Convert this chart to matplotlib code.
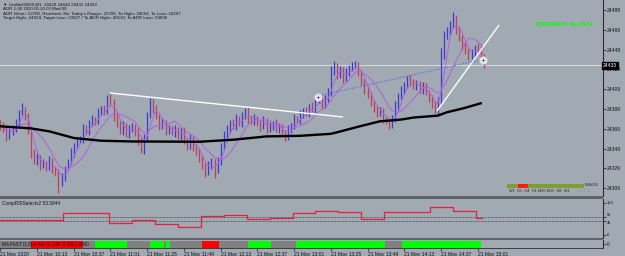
import matplotlib
matplotlib.use('Agg')
import matplotlib.pyplot as plt
import numpy as np
import pandas as pd
from matplotlib.patches import Rectangle

# ---------------- data ----------------
first_open = 24375
closes = [
    24372, 24369, 24362, 24365, 24370, 24375, 24385, 24389, 24382, 24367,
    24345, 24337, 24340, 24332, 24335, 24330, 24337, 24329, 24325, 24314,
    24320, 24329, 24337, 24345, 24352, 24357, 24359, 24369, 24367, 24375,
    24379, 24377, 24385, 24389, 24387, 24398, 24396, 24382, 24375, 24367,
    24372, 24364, 24369, 24372, 24367, 24357, 24348, 24359, 24382, 24396,
    24389, 24382, 24372, 24375, 24367, 24369, 24365, 24369, 24362, 24367,
    24357, 24352, 24359, 24352, 24347, 24339, 24332, 24325, 24332, 24337,
    24327, 24337, 24352, 24362, 24369, 24375, 24372, 24379, 24375, 24382,
    24387, 24379, 24377, 24380, 24375, 24372, 24377, 24369, 24372, 24375,
    24369, 24372, 24365, 24361, 24369, 24372, 24379, 24377, 24384, 24387,
    24385, 24391, 24389, 24398, 24400, 24393, 24398, 24406, 24426, 24433,
    24423, 24428, 24420, 24426, 24430, 24433, 24434, 24426, 24416, 24408,
    24403, 24396, 24389, 24385, 24387, 24379, 24377, 24373, 24379, 24392,
    24402, 24408, 24413, 24418, 24416, 24412, 24414, 24408, 24412, 24406,
    24400, 24393, 24389, 24398, 24443, 24464, 24467, 24474, 24481, 24469,
    24461, 24453, 24448, 24443, 24446, 24451, 24450, 24442, 24433]
wick_hi = [
    3, 4, 2, 5, 3, 4, 3, 6, 2, 3,
    2, 4, 5, 3, 4, 2, 5, 3, 2, 3,
    4, 3, 2, 5, 3, 4, 3, 5, 4, 3,
    4, 2, 5, 3, 4, 5, 7, 3, 4, 2,
    5, 3, 4, 3, 2, 4, 3, 5, 4, 4,
    3, 4, 2, 5, 3, 4, 3, 4, 2, 3,
    4, 2, 5, 3, 2, 3, 4, 3, 5, 3,
    2, 4, 3, 5, 4, 3, 4, 5, 3, 4,
    3, 4, 3, 4, 2, 3, 5, 3, 4, 2,
    4, 3, 2, 3, 4, 3, 5, 3, 4, 3,
    4, 3, 5, 2, 4, 3, 5, 4, 6, 5,
    3, 4, 3, 4, 3, 4, 4, 3, 2, 3,
    4, 3, 2, 3, 4, 3, 2, 3, 4, 5,
    3, 4, 3, 4, 5, 3, 4, 3, 4, 3,
    2, 3, 4, 3, 8, 4, 5, 4, 6, 3,
    4, 3, 4, 3, 4, 3, 5, 3, 3]
wick_lo = [
    4, 3, 5, 3, 2, 4, 3, 2, 4, 3,
    5, 3, 4, 5, 3, 4, 3, 5, 4, 10,
    3, 4, 2, 3, 4, 3, 2, 4, 3, 4,
    3, 4, 3, 2, 4, 3, 3, 5, 4, 3,
    4, 3, 4, 3, 5, 4, 3, 4, 3, 2,
    4, 3, 4, 3, 4, 3, 2, 4, 3, 4,
    3, 4, 3, 5, 4, 3, 4, 5, 3, 4,
    8, 3, 4, 3, 2, 4, 3, 4, 3, 4,
    3, 4, 3, 4, 3, 5, 3, 4, 3, 4,
    3, 4, 3, 4, 3, 4, 3, 2, 3, 4,
    3, 4, 3, 4, 3, 4, 3, 2, 4, 3,
    4, 3, 5, 3, 4, 3, 3, 4, 3, 4,
    3, 4, 3, 4, 3, 4, 3, 4, 3, 3,
    4, 3, 4, 3, 4, 3, 4, 3, 4, 3,
    4, 3, 4, 5, 4, 3, 4, 3, 3, 4,
    3, 4, 3, 4, 3, 4, 3, 5, 3]
bar_step_min = 2  # minutes between plotted bars

# slow moving average
ma200_idx = [0, 10, 16, 24, 33, 43, 65, 76, 87, 98, 108, 110, 118, 124, 131, 135, 143, 146, 151, 157]
ma200_val = [24371.6, 24369.5, 24366.5, 24359.8, 24357.0, 24356.3, 24356.0, 24358.0, 24361.4, 24362.0,
             24364.0, 24365.5, 24372.0, 24376.6, 24378.4, 24380.4, 24382.4, 24385.8, 24389.5, 24394.8]

# drawn objects (minute, price)
white_line1 = [(71.7, 24405.2), (224.0, 24381.0)]
white_line2 = [(285.4, 24387.0), (326.0, 24473.9)]
blue_dotted = [(210.3, 24403.2), (313.5, 24438.5)]
circles = [(207.6, 24401.2), (315.5, 24438.5)]
current_price = 24433

price_ticks = [24489, 24469, 24449, 24429, 24409, 24389, 24369, 24349, 24329, 24309]

# RSI step data (15-min periods)
rsi_edges = [0, 11, 26, 41, 56, 71, 86, 101, 116, 131, 146, 161, 176, 191, 206, 221, 236, 251, 266, 281, 296, 311, 315]
rsi_vals = [47, 47, 47, 69, 69, 37.5, 47, 34, 25, 59, 62, 50, 53, 69, 75, 72, 50, 72, 72, 87.5, 75, 53.6]

# MA cross histogram segments (start min, end min, state)
ma_segments = [(0, 20, 'n'), (20, 54, 'd'), (54, 62, 'n'), (62, 83, 'u'), (83, 98, 'n'),
               (98, 107, 'u'), (107, 108, 'n'), (108, 111, 'u'), (111, 132, 'n'), (132, 143, 'd'),
               (143, 162, 'n'), (162, 177, 'u'), (177, 193, 'n'), (193, 251.5, 'u'),
               (251.5, 262.5, 'n'), (262.5, 314.2, 'u')]

time_tick_min = [0, 24, 48, 72, 96, 120, 144, 168, 192, 216, 240, 264, 288, 312]
time_labels = ['21 May 2020', '21 May 10:13', '21 May 10:37', '21 May 11:01', '21 May 11:25',
               '21 May 11:49', '21 May 12:13', '21 May 12:37', '21 May 13:01', '21 May 13:25',
               '21 May 13:49', '21 May 14:13', '21 May 14:37', '21 May 15:01']

info_lines = ['\u25bc UsdIdx05820,M1  24439 24444 24431 24433',
              'ADR 1.00 2020.05.20 00 Mod 00',
              "ADR Value= 52780, Reached= No, Today's Range= 25706, To High= 24554, To Low= 24297",
              'Target High= 24924, Target Low= 23927 / To ADR High= 49130, To ADR Low= 59836']

# ---------------- style ----------------
BG = '#a1a9b3'
SEP = '#5d646c'
TXT = '#111418'
UP = '#3b3bd4'
DN = '#bd4058'
PURPLE = '#b25fe0'
FONT = ['Liberation Sans', 'DejaVu Sans']
plt.rcParams['font.family'] = FONT

W, H = 625, 256
fig = plt.figure(figsize=(W / 100, H / 100), dpi=100)
fig.patch.set_facecolor(BG)


def axes_px(x0, y0, x1, y1):
    a = fig.add_axes([x0 / W, 1 - y1 / H, (x1 - x0) / W, (y1 - y0) / H])
    a.set_facecolor(BG)
    for s in ['left', 'top', 'bottom']:
        a.spines[s].set_visible(False)
    a.spines['right'].set_color('#2a2e33')
    a.spines['right'].set_linewidth(0.8)
    return a


def fig_rect(x0, y0, x1, y1, color):
    fig.add_artist(Rectangle((x0 / W, 1 - y1 / H), (x1 - x0) / W, (y1 - y0) / H,
                             transform=fig.transFigure, facecolor=color, edgecolor='none'))


XL = (-0.3 / 1.53, (603 - 0.3) / 1.53)

# ---------------- main pane ----------------
n = min(len(closes), len(wick_hi), len(wick_lo))
c = np.array(closes[:n], dtype=float)
o = np.array([first_open] + closes[:n - 1], dtype=float)
hi = np.maximum(o, c) + np.array(wick_hi[:n])
lo = np.minimum(o, c) - np.array(wick_lo[:n])
mins = bar_step_min * np.arange(n)

ax = axes_px(0, 0, 603, 196)
ax.set_xlim(*XL)
ax.set_ylim(24489 - 1.0095 * (196 - 10), 24489 + 1.0095 * 10)

ax.axhline(current_price, color='#d4d8dc', lw=0.8, zorder=1)

cols = [UP if cc >= oo else DN for oo, cc in zip(o, c)]
ax.vlines(mins, lo, hi, colors=cols, lw=0.9, zorder=3)

cs = pd.Series(c)
ax.plot(mins, cs.rolling(4, min_periods=1).mean(), color=PURPLE, lw=0.7, zorder=4)
ax.plot(mins, cs.rolling(10, min_periods=1).mean(), color=PURPLE, lw=0.7, zorder=4)

ax.plot(np.array(ma200_idx) * bar_step_min, ma200_val, color='black', lw=1.7, zorder=5)

for seg, kw in [(white_line1, dict(color='white', lw=1.0)),
                (white_line2, dict(color='white', lw=1.0)),
                (blue_dotted, dict(color='#4a62e6', lw=0.8, ls=(0, (1, 1.5))))]:
    xs, ys = zip(*seg)
    ax.plot(xs, ys, zorder=6, solid_capstyle='butt', **kw)

cx, cy = zip(*circles)
ax.scatter(cx, cy, s=28, c='#f4f1ee', edgecolors='#e6d2c6', linewidths=0.6, zorder=7)
ax.scatter(cx, cy, s=6, c='#3050d0', marker='+', linewidths=0.5, zorder=8)

ax.yaxis.tick_right()
ax.set_yticks(price_ticks)
ax.set_yticklabels([str(t) for t in price_ticks])
ax.tick_params(axis='y', direction='out', length=2, width=0.5, colors=TXT, labelsize=3.6, pad=1)
ax.set_xticks([])

ax.text(1.0, current_price, str(current_price), transform=ax.get_yaxis_transform(),
        ha='left', va='center', fontsize=3.6, color='white', clip_on=False, zorder=10,
        bbox=dict(boxstyle='square,pad=0.15', facecolor='black', edgecolor='black'))

# info text
for k, line in enumerate(info_lines):
    fig.text(3 / W, 1 - (5 + 4.5 * k) / H, line, fontsize=3.2, color=TXT, ha='left', va='center')

fig.text(536 / W, 1 - 24 / H, 'RSI2/RSI5: 62.2574', fontsize=4.6, color='#00ff00',
         fontweight='bold', ha='left', va='center')

# MTF panel bottom-right
fig_rect(507, 184, 584, 187.7, '#7f9e2f')
fig_rect(518, 184, 528, 187.7, '#ff1a1a')
fig.text(585 / W, 1 - 185.5 / H, 'EMA200', fontsize=2.6, color='#2a2a2a', ha='left', va='center')
fig.text(509 / W, 1 - 190.7 / H, 'W1  D1  H4  H1 M30 M15  M5  M1', fontsize=2.8, color='#2a2a2a',
         ha='left', va='center')
fig.text(578 / W, 1 - 190.7 / H, '25:55:20', fontsize=2.6, color='#8c96a0', ha='left', va='center')

# separators
fig_rect(0, 196, 603, 199, SEP)
fig_rect(0, 238, 603, 240, SEP)

# ---------------- RSI pane ----------------
ar = axes_px(0, 199, 603, 238)
ar.set_xlim(*XL)
ar.set_ylim((235 - 238) / 0.32, (235 - 199) / 0.32)
ar.axhline(55, color='#2a2e33', lw=0.5, ls=(0, (1, 1)))
ar.axhline(45, color='#2a2e33', lw=0.5, ls=(0, (1, 1)))
ar.step(rsi_edges, rsi_vals + [rsi_vals[-1]], where='post', color='#e8203e', lw=0.9)
ar.yaxis.tick_right()
ar.set_yticks([100, 55, 45, 0])
ar.set_yticklabels(['100', '55', '45', '0'])
ar.tick_params(axis='y', direction='out', length=2, width=0.5, colors=TXT, labelsize=3.0, pad=1)
ylabs = ar.get_yticklabels()
ylabs[1].set_verticalalignment('bottom')
ylabs[2].set_verticalalignment('top')
ar.set_xticks([])
ar.text(0.004, (238 - 203.5) / 39, 'CompRSISelectv2 53.5844', transform=ar.transAxes,
        fontsize=3.4, color=TXT, ha='left', va='center')

# ---------------- MA cross pane ----------------
am = axes_px(0, 240, 603, 248)
am.set_xlim(*XL)
am.set_ylim(0, 1)
state_col = {'u': '#00ff00', 'd': '#ff0000', 'n': '#808080'}
for s0, s1, st in ma_segments:
    am.axvspan(s0, s1, ymin=0.05, ymax=0.9, color=state_col[st], lw=0)
am.text(0.004, 0.48, 'MA FAST (1,8)vs MA SLOW (3,20)(1.0000', transform=am.transAxes,
        fontsize=3.3, color=TXT, ha='left', va='center')
am.spines['bottom'].set_visible(True)
am.spines['bottom'].set_color('#2a2e33')
am.spines['bottom'].set_linewidth(0.6)
am.yaxis.tick_right()
am.set_yticks([0.5])
am.set_yticklabels(['0'])
am.tick_params(axis='y', direction='out', length=2, width=0.5, colors=TXT, labelsize=3.4, pad=1)
am.set_xticks(time_tick_min)
am.set_xticklabels(time_labels)
am.tick_params(axis='x', direction='out', length=2, width=0.5, colors=TXT, labelsize=3.6, pad=0.6)
for lab in am.get_xticklabels():
    lab.set_horizontalalignment('left')

fig.savefig('out.png', dpi=100, facecolor=BG)
